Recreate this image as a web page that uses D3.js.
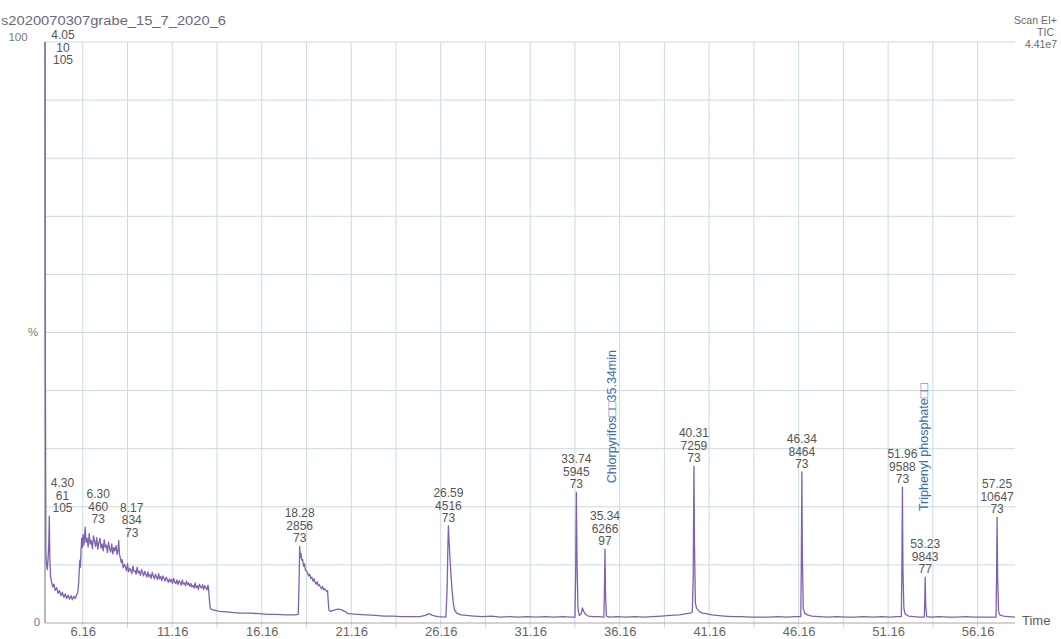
<!DOCTYPE html>
<html>
<head>
<meta charset="utf-8">
<script src="https://cdn.jsdelivr.net/npm/d3@7"></script>
<style>
  html, body { margin: 0; padding: 0; background: #fff; }
  svg { display: block; font-family: "Liberation Sans", Arial, sans-serif; }
</style>
</head>
<body>
<svg id="chart" width="1061" height="639"></svg>
<script>
// ---------------- DATA ----------------
const sampleName = "s2020070307grabe_15_7_2020_6";
const headerRight = ["Scan EI+", "TIC", "4.41e7"];
const xTickValues = [6.16, 11.16, 16.16, 21.16, 26.16, 31.16, 36.16, 41.16, 46.16, 51.16, 56.16];
const xTickLabels = ["6.16", "11.16", "16.16", "21.16", "26.16", "31.16", "36.16", "41.16", "46.16", "51.16", "56.16"];
const yTickValues = [0, 50, 100];
const yTickLabels = ["0", "%", "100"];

// labelled peaks: retention time, scan number, base mass, relative height (%)
const peakRT     = [4.05, 4.30, 6.30, 8.17, 18.28, 26.59, 33.74, 35.34, 40.31, 46.34, 51.96, 53.23, 57.25];
const peakScan   = [10, 61, 460, 834, 2856, 4516, 5945, 6266, 7259, 8464, 9588, 9843, 10647];
const peakMass   = [105, 105, 73, 73, 73, 73, 73, 97, 73, 73, 73, 77, 73];
const peakHeight = [100, 18.4, 16.5, 14.2, 13.2, 16.7, 22.5, 12.7, 27, 26, 23.4, 7.9, 18.2];

// compound annotations (attached to peaks)
const annotText = ["Chlorpyrifos\u25A1\u25A135.34min", "Triphenyl phosphate\u25A1\u25A1"];
const annotRT   = [35.34, 53.23];

// TIC trace (time in min, relative intensity in %)
const traceTime = [
4.05,4.07,4.10,4.14,4.18,4.22,4.26,4.29,4.32,4.36,4.42,4.48,4.55,4.62,4.70,4.78,4.86,4.94,5.02,5.10,
5.18,5.26,5.34,5.42,5.50,5.58,5.66,5.74,5.82,5.88,5.93,5.97,6.00,6.03,6.06,6.10,6.14,6.18,6.22,6.26,
6.30,6.34,6.40,6.46,6.52,6.58,6.64,6.70,6.76,6.82,6.88,6.94,7.00,7.06,7.12,7.18,7.24,7.30,7.36,7.42,
7.48,7.54,7.60,7.66,7.72,7.78,7.84,7.90,7.96,8.02,8.08,8.13,8.17,8.21,8.26,8.31,8.36,8.42,8.48,8.54,
8.60,8.66,8.72,8.78,8.84,8.90,8.96,9.02,9.08,9.14,9.20,9.26,9.32,9.38,9.44,9.50,9.56,9.62,9.68,9.74,
9.80,9.86,9.92,9.98,10.04,10.10,10.16,10.22,10.28,10.34,10.40,10.46,10.52,10.58,10.64,10.70,10.76,10.82,10.88,10.94,
11.00,11.06,11.12,11.18,11.24,11.30,11.36,11.42,11.48,11.54,11.60,11.66,11.72,11.78,11.84,11.90,11.96,12.02,12.08,12.14,
12.20,12.26,12.32,12.38,12.44,12.50,12.56,12.62,12.68,12.74,12.80,12.86,12.92,12.98,13.04,13.10,13.16,13.20,13.24,13.28,
13.35,13.5,13.8,14.2,14.6,15.0,15.5,16.0,16.5,17.0,17.5,18.0,18.20,18.24,18.28,18.31,18.35,18.40,18.45,18.50,
18.55,18.60,18.66,18.72,18.78,18.84,18.90,18.96,19.02,19.08,19.14,19.20,19.26,19.32,19.38,19.44,19.50,19.56,19.62,19.68,
19.74,19.80,19.84,19.88,19.92,20.0,20.2,20.4,20.6,20.8,21.0,21.5,22.0,22.5,23.0,23.5,24.0,24.5,25.0,25.3,
25.5,25.7,26.0,26.45,26.52,26.56,26.59,26.63,26.68,26.74,26.80,26.86,26.93,27.05,27.3,27.6,28.0,28.5,29.0,29.5,
30.0,30.5,31.0,31.5,32.0,32.5,33.0,33.4,33.66,33.70,33.74,33.78,33.83,33.9,34.0,34.08,34.15,34.25,34.4,34.7,
35.0,35.28,35.31,35.34,35.37,35.42,35.6,36.0,36.5,37.0,37.5,38.0,38.5,39.0,39.5,39.9,40.1,40.22,40.27,40.31,
40.34,40.39,40.45,40.52,40.65,40.8,41.0,41.3,41.6,42.0,42.5,43.0,43.5,44.0,44.5,45.0,45.5,46.0,46.28,46.31,
46.34,46.37,46.42,46.5,46.65,46.9,47.3,47.8,48.3,48.8,49.3,49.8,50.3,50.8,51.3,51.6,51.90,51.93,51.96,51.99,
52.04,52.12,52.3,52.6,52.9,53.18,53.21,53.23,53.26,53.32,53.6,54.0,54.5,55.0,55.5,56.0,56.5,57.0,57.19,57.22,
57.25,57.28,57.33,57.4,57.6,57.9,58.25
];
const traceIntensity = [
100,45,12,10,9.2,11,13.5,18.4,11,8,7,6.2,6.7,5.6,6.1,5.1,5.6,4.7,5.3,4.4,
5.0,4.2,4.8,4.1,4.7,4.0,4.6,4.2,4.9,5.2,6.8,9.5,10.8,9.6,12.2,14.6,13.0,15.2,13.4,14.9,
16.5,13.9,14.6,13.1,15.4,13.6,14.2,12.8,15.0,14.1,13.2,14.7,12.7,13.8,14.6,12.9,13.6,12.4,14.3,13.0,
13.4,12.1,13.9,12.8,12.2,13.6,11.9,13.0,12.4,13.3,11.8,12.6,14.2,11.9,11.2,10.4,10.9,9.5,10.1,9.7,
9.0,10.2,8.8,9.4,9.1,8.5,9.8,8.9,9.0,8.4,9.6,8.6,8.9,8.2,9.2,8.7,8.1,8.9,8.4,7.9,
8.8,8.0,8.3,7.7,8.7,8.1,7.6,8.4,7.9,7.5,8.5,7.6,8.0,7.3,8.1,7.7,7.2,7.9,7.5,7.0,
7.6,7.1,7.5,6.8,7.7,7.0,6.8,7.4,6.6,7.3,7.0,6.5,7.4,6.7,6.9,6.4,7.2,6.6,6.9,6.3,
6.8,6.2,6.5,6.0,6.9,6.1,6.4,5.8,6.7,6.2,6.0,6.6,5.8,6.4,6.1,5.7,6.5,5.6,3.8,2.6,
2.3,2.2,2.0,1.9,1.8,1.7,1.7,1.6,1.5,1.5,1.4,1.4,1.5,6,13.2,11.2,12.0,10.8,10.9,9.8,
10.2,9.1,9.0,8.6,8.1,8.4,7.7,7.9,7.2,7.6,7.0,6.7,7.1,6.4,6.6,6.2,5.9,6.3,5.7,5.9,
5.6,5.4,5.6,3.5,2.2,2.0,2.2,2.4,2.3,2.0,1.6,1.5,1.4,1.3,1.2,1.2,1.1,1.1,1.1,1.3,
1.6,1.3,1.1,1.0,6,13,16.7,14,11,8,5.5,3.5,2.3,1.7,1.4,1.3,1.2,1.1,1.2,1.0,
1.1,1.0,1.1,1.0,1.1,1.0,1.1,1.0,1.0,8,22.5,10,2.5,1.3,1.5,2.6,2.0,1.5,1.2,1.1,
1.1,1.0,6,12.7,5,1.2,1.0,1.1,1.0,1.1,1.0,1.1,1.2,1.3,1.4,1.6,1.7,1.9,8,27,
14,3.5,2.6,2.3,1.9,1.7,1.6,1.4,1.3,1.2,1.1,1.1,1.0,1.0,1.0,1.1,1.0,1.1,1.1,10,
26,11,2.5,1.7,1.4,1.2,1.1,1.0,1.1,1.0,1.0,1.1,1.0,1.1,1.0,1.1,1.1,10,23.4,9,
2.5,1.5,1.2,1.1,1.0,1.0,4,7.9,3,1.1,1.0,1.1,1.0,1.0,1.1,1.0,1.0,1.0,1.0,8,
18.2,8,2,1.4,1.2,1.1,1.0
];

// ---------------- DRAWING ----------------
const svg = d3.select("#chart");
svg.append("rect").attr("width", 1061).attr("height", 639).attr("fill", "#fff");

const x = d3.scaleLinear().domain([4.05, 58.25]).range([45, 1015]);
const y = d3.scaleLinear().domain([0, 100]).range([623, 42]);

const gridColor = "#cadbe2";
const textColor = "#555";

// vertical grid lines every 2.5 min
const vGrid = d3.range(6.16, 58.25, 2.5);
svg.append("g").selectAll("line").data(vGrid).join("line")
  .attr("x1", d => x(d)).attr("x2", d => x(d))
  .attr("y1", y(100)).attr("y2", y(0) + 5)
  .attr("stroke", gridColor).attr("stroke-width", 1);

// horizontal grid lines every 10 %
svg.append("g").selectAll("line").data(d3.range(10, 101, 10)).join("line")
  .attr("x1", x(4.05)).attr("x2", x(58.25))
  .attr("y1", d => y(d)).attr("y2", d => y(d))
  .attr("stroke", gridColor).attr("stroke-width", 1);

// baseline and left axis
svg.append("line").attr("x1", x(4.05)).attr("x2", x(58.25))
  .attr("y1", y(0)).attr("y2", y(0)).attr("stroke", "#a8a8a8").attr("stroke-width", 1);
svg.append("line").attr("x1", x(4.05)).attr("x2", x(4.05))
  .attr("y1", y(100)).attr("y2", y(0)).attr("stroke", "#8a8a8a").attr("stroke-width", 1.2);

// bottom axis labels
const xAxis = d3.axisBottom(x).tickValues(xTickValues)
  .tickFormat((d, i) => xTickLabels[i]).tickSize(0).tickPadding(4);
const gx = svg.append("g").attr("transform", `translate(0,${y(0)})`).call(xAxis);
gx.select(".domain").remove();
gx.selectAll("text").attr("fill", "#666").style("font-size", "13px")
  .style("font-family", "'Liberation Sans', Arial, sans-serif");

// left axis labels
const leftLabelX = [37, 33, 18];
const leftLabelDy = [0, 0, -4];
svg.append("g").selectAll("text").data(yTickValues).join("text")
  .attr("x", (d, i) => leftLabelX[i])
  .attr("y", (d, i) => y(d) + leftLabelDy[i])
  .attr("text-anchor", "middle").attr("dominant-baseline", "middle")
  .attr("fill", "#7a7a7a").style("font-size", "11.5px")
  .text((d, i) => yTickLabels[i]);

// trace
const line = d3.line().x(d => x(d[0])).y(d => y(d[1]));
const pts = traceTime.map((t, i) => [t, traceIntensity[i]]);
svg.append("path").datum(pts)
  .attr("d", line).attr("fill", "none")
  .attr("stroke", "#7f61b3").attr("stroke-width", 1.3)
  .attr("stroke-linejoin", "round");

// peak labels
const lineGap = 12.5;
const labelG = svg.append("g").style("font-size", "12px").attr("fill", textColor);
const labelTop = [];
peakRT.forEach((rt, i) => {
  const lines = [rt.toFixed(2), String(peakScan[i]), String(peakMass[i])];
  const nudge = rt < 4.2 ? 18 : (rt < 10 ? 13 : 0);
  let lastY = y(peakHeight[i]) - 7;
  let firstY = lastY - 2 * lineGap;
  if (firstY < y(100)) { firstY = y(100) - 6; }
  labelTop.push(firstY);
  lines.forEach((s, k) => {
    labelG.append("text")
      .attr("x", x(rt) + nudge)
      .attr("y", firstY + k * lineGap)
      .attr("text-anchor", "middle").attr("dominant-baseline", "middle")
      .text(s);
  });
});

// compound annotations (vertical blue text)
const annotNudge = [8, 0];
annotRT.forEach((rt, i) => {
  const pi = peakRT.indexOf(rt);
  const bottom = labelTop[pi] - 34;
  const ax = x(rt) + annotNudge[i];
  svg.append("text")
    .attr("transform", `translate(${ax},${bottom}) rotate(-90)`)
    .attr("dominant-baseline", "middle")
    .attr("fill", "#3c6cae").style("font-size", "12.5px")
    .text(annotText[i]);
});

// header texts
svg.append("text").attr("x", 1).attr("y", 22).attr("dominant-baseline", "middle")
  .attr("fill", "#6b6680").style("font-size", "12px")
  .attr("textLength", 225).attr("lengthAdjust", "spacingAndGlyphs")
  .text(sampleName);
const hrX = [1057, 1054, 1057];
const hrY = [21, 33, 45];
headerRight.forEach((s, i) => {
  svg.append("text").attr("x", hrX[i]).attr("y", hrY[i])
    .attr("text-anchor", "end").attr("dominant-baseline", "middle")
    .attr("fill", "#6a6a6a").style("font-size", "10.5px").text(s);
});

// axis title
svg.append("text").attr("x", 1022).attr("y", 622).attr("dominant-baseline", "middle")
  .attr("fill", "#5a5a5a").style("font-size", "13px").text("Time");
</script>
</body>
</html>
